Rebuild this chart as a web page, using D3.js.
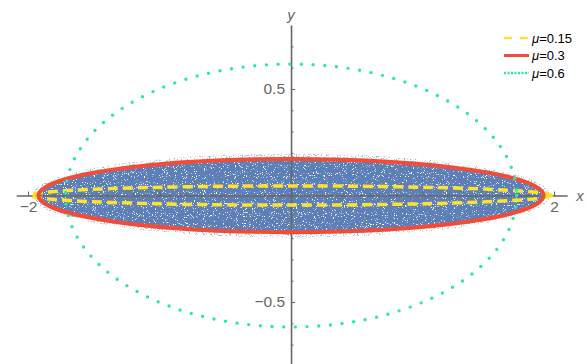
<!DOCTYPE html>
<html>
<head>
<meta charset="utf-8">
<script src="https://cdn.jsdelivr.net/npm/d3@7"></script>
<style>
  html, body { margin: 0; padding: 0; background: #fff; }
  svg { display: block; }
  .tick text { font-family: 'Liberation Sans', Arial, sans-serif; }
</style>
</head>
<body>
<div id="container"></div>
<script>
// Data
const muValues = [0.15, 0.3, 0.6];
const semiAxisX = [1.98, 1.92, 1.715];   // half width of each support ellipse
const semiAxisY = [0.045, 0.172, 0.617]; // half height of each support ellipse
const legendLabels = ['0.15', '0.3', '0.6'];

// eigenvalue cloud (dense core, sparse fringe)
const cloudCore = [1.92, 0.172];
const cloudFringe = [1.97, 0.197];

const xMajorTicks = [-2, -1, 1, 2];
const xTickLabels = ['\u22122', '\u22121', '1', '2'];
const xMinorTicks = [-2, -1.8, -1.6, -1.4, -1.2, -1, -0.8, -0.6, -0.4, -0.2,
  0.2, 0.4, 0.6, 0.8, 1, 1.2, 1.4, 1.6, 1.8, 2];
const yMajorTicks = [-0.5, 0.5];
const yTickLabels = ['\u22120.5', '0.5'];
const yMinorTicks = [-0.7, -0.6, -0.4, -0.3, -0.2, -0.1, 0.1, 0.2, 0.3, 0.4, 0.6, 0.7];

// Styles
const width = 587;
const height = 364;
const axisColor = '#666666';
const cloudColor = '#5b7fb8';
const seriesStyles = [
  { color: '#fde22e', width: 3.5, dash: '10,5', cap: 'butt' },
  { color: '#f24c37', width: 4, dash: null, cap: 'butt' },
  { color: '#2ae8b2', width: 3.4, dash: '0,11.7', cap: 'round' }
];
const legendStyles = [
  { dash: '8,7.7', width: 2.5, cap: 'butt' },
  { dash: null, width: 3, cap: 'butt' },
  { dash: '2,1.5', width: 2.5, cap: 'butt' }
];

const svg = d3.select('#container').append('svg')
  .attr('width', width)
  .attr('height', height);

const xScale = d3.scaleLinear().domain([-2.09, 2.1]).range([16.2, 567.2]);
const yScale = d3.scaleLinear().domain([-0.79, 0.8]).range([363.8, 25.1]);

// noise filters for the scatter look
const defs = svg.append('defs');
const speckle = defs.append('filter').attr('id', 'speckle')
  .attr('x', '-5%').attr('y', '-30%').attr('width', '110%').attr('height', '160%');
speckle.append('feTurbulence').attr('type', 'fractalNoise')
  .attr('baseFrequency', 0.9).attr('numOctaves', 2).attr('seed', 7).attr('result', 'n');
speckle.append('feColorMatrix').attr('in', 'n').attr('type', 'matrix')
  .attr('values', '0 0 0 0 1  0 0 0 0 1  0 0 0 0 1  10 0 0 0 -6.3').attr('result', 'w');
speckle.append('feComposite').attr('in', 'w').attr('in2', 'SourceGraphic')
  .attr('operator', 'in').attr('result', 'wi');
const sm = speckle.append('feMerge');
sm.append('feMergeNode').attr('in', 'SourceGraphic');
sm.append('feMergeNode').attr('in', 'wi');

const scatter = defs.append('filter').attr('id', 'scatter')
  .attr('x', '-5%').attr('y', '-30%').attr('width', '110%').attr('height', '160%');
scatter.append('feTurbulence').attr('type', 'fractalNoise')
  .attr('baseFrequency', 0.85).attr('numOctaves', 2).attr('seed', 3).attr('result', 'n');
scatter.append('feColorMatrix').attr('in', 'n').attr('type', 'matrix')
  .attr('values', '0 0 0 0 0.36  0 0 0 0 0.5  0 0 0 0 0.72  10 0 0 0 -5.6').attr('result', 'b');
scatter.append('feComposite').attr('in', 'b').attr('in2', 'SourceGraphic')
  .attr('operator', 'in');

// tick labels (sit under the cloud)
const xLabelAxis = d3.axisBottom(xScale)
  .tickValues(xMajorTicks)
  .tickFormat((d, i) => xTickLabels[i])
  .tickSize(0)
  .tickPadding(5);
svg.append('g')
  .attr('class', 'x labels')
  .attr('transform', `translate(0, ${yScale(0)})`)
  .call(xLabelAxis)
  .call(g => g.select('.domain').remove())
  .call(g => g.selectAll('text').attr('fill', axisColor).attr('font-size', 15.5));

const yLabelAxis = d3.axisLeft(yScale)
  .tickValues(yMajorTicks)
  .tickFormat((d, i) => yTickLabels[i])
  .tickSize(0)
  .tickPadding(6);
svg.append('g')
  .attr('class', 'y labels')
  .attr('transform', `translate(${xScale(0)}, 0)`)
  .call(yLabelAxis)
  .call(g => g.select('.domain').remove())
  .call(g => g.selectAll('text').attr('fill', axisColor).attr('font-size', 15.5));

// eigenvalue cloud
svg.append('ellipse')
  .attr('cx', xScale(0)).attr('cy', yScale(0))
  .attr('rx', xScale(cloudFringe[0]) - xScale(0))
  .attr('ry', yScale(0) - yScale(cloudFringe[1]))
  .attr('fill', cloudColor)
  .attr('filter', 'url(#scatter)');
svg.append('ellipse')
  .attr('cx', xScale(0)).attr('cy', yScale(0))
  .attr('rx', xScale(cloudCore[0]) - xScale(0))
  .attr('ry', yScale(0) - yScale(cloudCore[1]))
  .attr('fill', cloudColor)
  .attr('filter', 'url(#speckle)');

// axes lines and ticks
function drawAxis(axis, transform, cls) {
  return svg.append('g')
    .attr('class', cls)
    .attr('transform', transform)
    .call(axis)
    .call(g => g.selectAll('text').remove())
    .call(g => g.selectAll('line, path').attr('stroke', axisColor));
}
drawAxis(d3.axisBottom(xScale).tickValues(xMinorTicks).tickSizeInner(-2.5).tickSizeOuter(0),
  `translate(0, ${yScale(0)})`, 'x minor')
  .call(g => g.select('.domain').attr('stroke-width', 1.6));
drawAxis(d3.axisBottom(xScale).tickValues(xMajorTicks).tickSizeInner(-4).tickSizeOuter(0),
  `translate(0, ${yScale(0)})`, 'x major')
  .call(g => g.select('.domain').remove());
drawAxis(d3.axisLeft(yScale).tickValues(yMinorTicks).tickSizeInner(-2.5).tickSizeOuter(0),
  `translate(${xScale(0)}, 0)`, 'y minor')
  .call(g => g.select('.domain').attr('stroke-width', 1.6));
drawAxis(d3.axisLeft(yScale).tickValues(yMajorTicks).tickSizeInner(-4).tickSizeOuter(0),
  `translate(${xScale(0)}, 0)`, 'y major')
  .call(g => g.select('.domain').remove());

svg.append('text')
  .attr('x', xScale(2.1) + 9).attr('y', yScale(0) + 5)
  .attr('font-family', 'Liberation Sans, Arial, sans-serif')
  .attr('font-style', 'italic').attr('font-size', 15)
  .attr('fill', axisColor).text('x');
svg.append('text')
  .attr('x', xScale(0)).attr('y', 20).attr('text-anchor', 'middle')
  .attr('font-family', 'Liberation Sans, Arial, sans-serif')
  .attr('font-style', 'italic').attr('font-size', 15)
  .attr('fill', axisColor).text('y');

// support ellipses
const order = [0, 1, 2];
svg.selectAll('.support')
  .data(order)
  .enter().append('ellipse')
    .attr('class', 'support')
    .attr('cx', xScale(0)).attr('cy', yScale(0))
    .attr('rx', i => xScale(semiAxisX[i]) - xScale(0))
    .attr('ry', i => yScale(0) - yScale(semiAxisY[i]))
    .attr('fill', 'none')
    .attr('stroke', i => seriesStyles[i].color)
    .attr('stroke-width', i => seriesStyles[i].width)
    .attr('stroke-dasharray', i => seriesStyles[i].dash)
    .attr('stroke-linecap', i => seriesStyles[i].cap);

// legend
const legend = svg.append('g').attr('class', 'legend')
  .attr('transform', 'translate(504, 38)');
const rows = legend.selectAll('.row')
  .data(order)
  .enter().append('g')
    .attr('class', 'row')
    .attr('transform', i => `translate(0, ${i * 17.5})`);
rows.append('line')
  .attr('x1', 0).attr('x2', 25)
  .attr('stroke', i => seriesStyles[i].color)
  .attr('stroke-width', i => legendStyles[i].width)
  .attr('stroke-dasharray', i => legendStyles[i].dash);
const lt = rows.append('text')
  .attr('x', 28).attr('y', 4.5)
  .attr('font-family', 'Liberation Sans, Arial, sans-serif')
  .attr('font-size', 13)
  .attr('fill', '#000');
lt.append('tspan').attr('font-style', 'italic').text('\u03bc');
lt.append('tspan').text(i => '=' + legendLabels[i]);
</script>
</body>
</html>
